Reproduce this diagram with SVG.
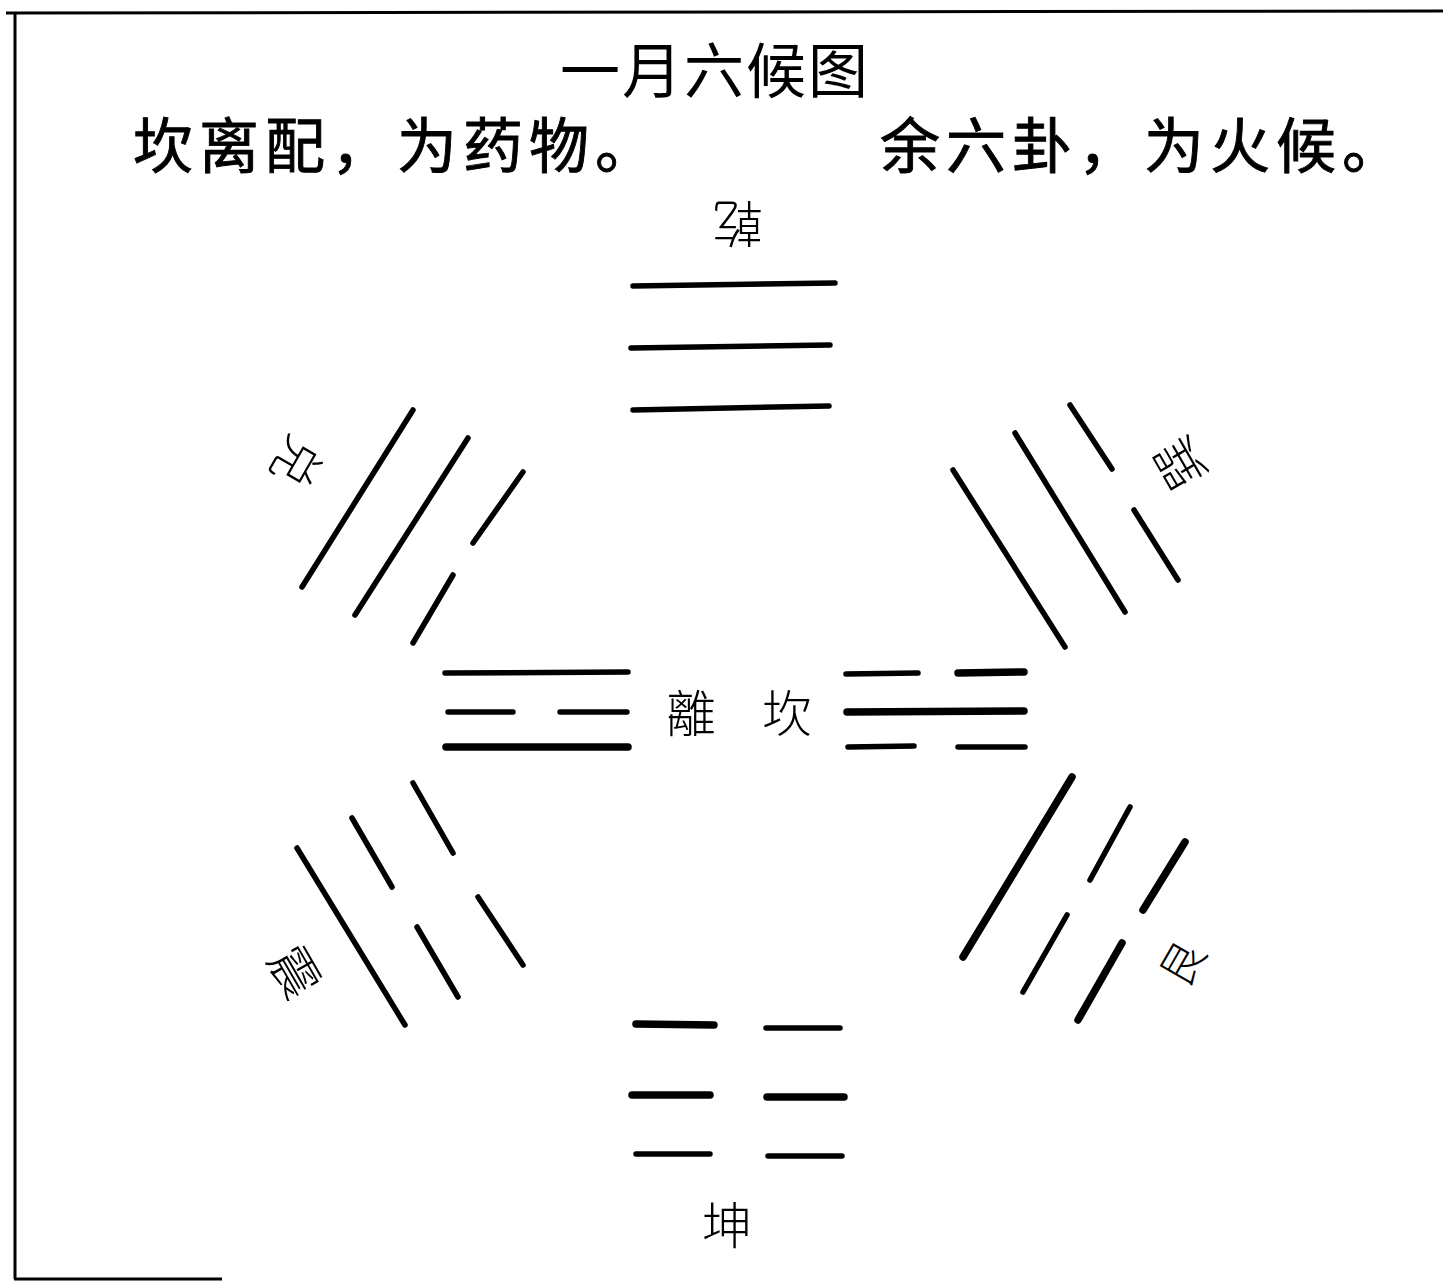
<svg xmlns="http://www.w3.org/2000/svg" width="1443" height="1282" viewBox="0 0 1443 1282">
<style>
  .frame{stroke:#000;stroke-width:3;fill:none}
  .yao{stroke:#000;stroke-width:5.5;stroke-linecap:round;fill:none}
  .thick{stroke-width:7.5}
  .title{font-family:"Noto Sans CJK SC","Noto Sans CJK TC",sans-serif;font-size:60px;fill:#000;letter-spacing:2px}
  .head{font-family:"Noto Sans CJK SC","Noto Sans CJK TC",sans-serif;font-size:60px;fill:#000;font-weight:400;stroke:#000;stroke-width:0.9;letter-spacing:6px}
  .lbl{font-family:"Noto Sans CJK TC","Noto Sans CJK SC",sans-serif;font-size:50px;fill:#000;font-weight:300;text-anchor:middle;dominant-baseline:central}
</style>
<rect width="1443" height="1282" fill="#fff"/>
<g id="frame">
  <line class="frame" x1="6" y1="13" x2="1443" y2="11"/>
  <line class="frame" x1="15" y1="12" x2="15" y2="1279"/>
  <line class="frame" x1="14" y1="1279" x2="222" y2="1279"/>
</g>
<g id="title">
  <text class="title" x="715" y="93" text-anchor="middle">一月六候图</text>
  <text class="head" x="133" y="168">坎离配，为药物。</text>
  <text class="head" x="880" y="168">余六卦，为火候。</text>
</g>
<g id="qian">
  <line class="yao" x1="633" y1="286" x2="835" y2="283"/>
  <line class="yao" x1="631" y1="348" x2="830" y2="345"/>
  <line class="yao" x1="633" y1="410" x2="829" y2="406"/>
  <text class="lbl" x="738" y="227" transform="rotate(180 738 227)">乾</text>
</g>
<g id="dui">
  <line class="yao" x1="302" y1="587" x2="413" y2="410"/>
  <line class="yao" x1="355" y1="615" x2="468" y2="438"/>
  <line class="yao" x1="413" y1="643" x2="453" y2="575"/>
  <line class="yao" x1="473" y1="543" x2="523" y2="472"/>
  <text class="lbl" x="300" y="464" transform="rotate(120 300 464)">兑</text>
</g>
<g id="xun">
  <line class="yao" x1="1070" y1="405" x2="1112" y2="469"/>
  <line class="yao" x1="1134" y1="510" x2="1178" y2="580"/>
  <line class="yao" x1="1015" y1="433" x2="1125" y2="612"/>
  <line class="yao" x1="953" y1="470" x2="1065" y2="647"/>
  <text class="lbl" x="1177" y="465" transform="rotate(-120 1177 465)">巽</text>
</g>
<g id="li">
  <line class="yao" x1="445" y1="673" x2="628" y2="672"/>
  <line class="yao" x1="448" y1="712" x2="513" y2="712"/>
  <line class="yao" x1="560" y1="712" x2="627" y2="712"/>
  <line class="yao thick" x1="446" y1="747" x2="628" y2="747"/>
  <text class="lbl" x="691" y="710">離</text>
</g>
<g id="kan">
  <line class="yao" x1="846" y1="674" x2="918" y2="673"/>
  <line class="yao thick" x1="958" y1="673" x2="1024" y2="672"/>
  <line class="yao thick" x1="847" y1="712" x2="1024" y2="711"/>
  <line class="yao" x1="848" y1="747" x2="914" y2="746"/>
  <line class="yao" x1="958" y1="747" x2="1025" y2="747"/>
  <text class="lbl" x="787" y="710">坎</text>
</g>
<g id="zhen">
  <line class="yao" x1="297" y1="848" x2="405" y2="1025"/>
  <line class="yao" x1="352" y1="818" x2="392" y2="887"/>
  <line class="yao" x1="417" y1="927" x2="458" y2="997"/>
  <line class="yao" x1="413" y1="783" x2="453" y2="853"/>
  <line class="yao" x1="478" y1="897" x2="523" y2="965"/>
  <text class="lbl" x="298" y="970" transform="rotate(60 298 970)">震</text>
</g>
<g id="gen">
  <line class="yao thick" x1="963" y1="957" x2="1072" y2="777"/>
  <line class="yao" x1="1090" y1="880" x2="1130" y2="807"/>
  <line class="yao" x1="1023" y1="992" x2="1067" y2="915"/>
  <line class="yao thick" x1="1143" y1="910" x2="1185" y2="842"/>
  <line class="yao thick" x1="1078" y1="1020" x2="1122" y2="943"/>
  <text class="lbl" x="1180" y="962" transform="rotate(-60 1180 962)" style="font-size:44px">艮</text>
</g>
<g id="kun">
  <line class="yao thick" x1="636" y1="1024" x2="714" y2="1025"/>
  <line class="yao" x1="766" y1="1028" x2="840" y2="1028"/>
  <line class="yao thick" x1="632" y1="1095" x2="710" y2="1095"/>
  <line class="yao thick" x1="767" y1="1097" x2="844" y2="1097"/>
  <line class="yao" x1="636" y1="1154" x2="710" y2="1154"/>
  <line class="yao" x1="768" y1="1156" x2="842" y2="1156"/>
  <text class="lbl" x="727" y="1222">坤</text>
</g>
<g id="connectors"/>
</svg>
